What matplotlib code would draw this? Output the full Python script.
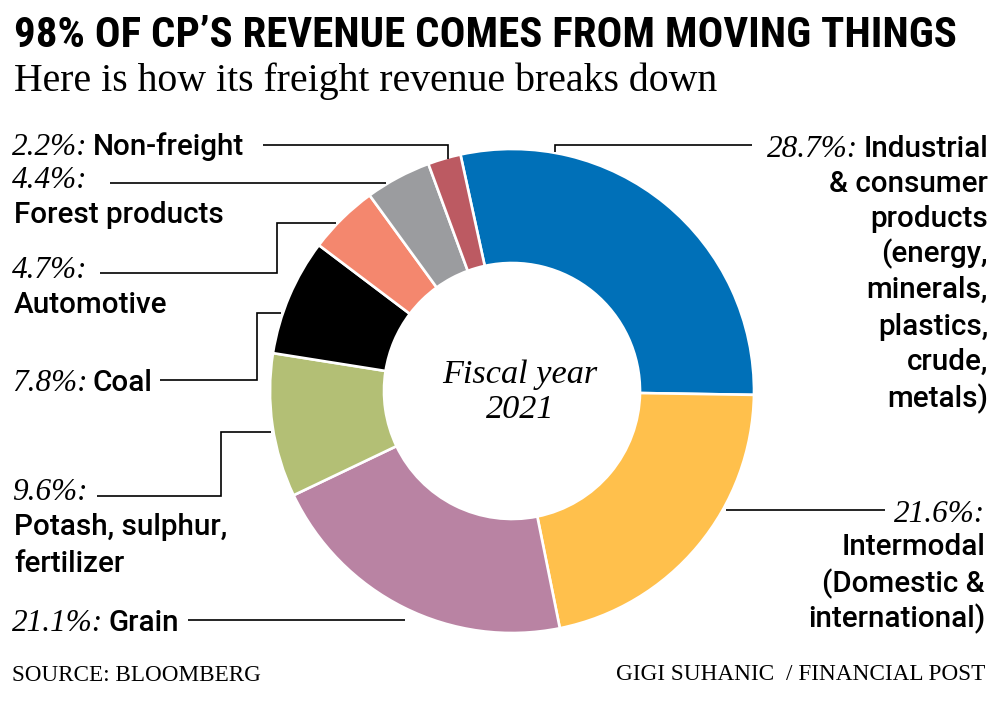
import numpy as np
import matplotlib
matplotlib.use("Agg")
import matplotlib.pyplot as plt
from matplotlib import font_manager as fm

# ---------------- data ----------------
categories = ["Industrial & consumer products", "Intermodal", "Grain",
              "Potash, sulphur, fertilizer", "Coal", "Automotive",
              "Forest products", "Non-freight"]
shares = [28.7, 21.6, 21.1, 9.6, 7.8, 4.7, 4.4, 2.2]
pct_labels = ["28.7%:", "21.6%:", "21.1%:", "9.6%:", "7.8%:", "4.7%:", "4.4%:", "2.2%:"]
colors = ["#0070b8", "#ffc04c", "#b983a3", "#b3bf75", "#000000", "#f4876e",
          "#9b9c9f", "#bc5a62"]

title = "98% OF CP\u2019S REVENUE COMES FROM MOVING THINGS"
subtitle = "Here is how its freight revenue breaks down"
center_lines = ["Fiscal year", "2021"]
source = "SOURCE: BLOOMBERG"
credit = "GIGI SUHANIC  / FINANCIAL POST"

W, H = 1001, 704
fig = plt.figure(figsize=(W / 100, H / 100), dpi=100)
ax = fig.add_axes([0, 0, 1, 1])

def Y(y):
    return H - y

CX, CY, R, RIN = 512, 391, 242, 128
ax.pie(shares, colors=colors, center=(CX, Y(CY)), radius=R, startangle=102.3,
       counterclock=False, frame=True,
       wedgeprops=dict(width=R - RIN, edgecolor="white", linewidth=1.9))
ax.set_xlim(0, W)
ax.set_ylim(0, H)
ax.set_aspect("auto")
ax.axis("off")

avail = {f.name for f in fm.fontManager.ttflist}
def pick(*names):
    for n in names:
        if n in avail:
            return n
    return "DejaVu Sans"

COND = pick("Liberation Sans Narrow", "Roboto Condensed", "DejaVu Sans")
SANS = pick("Roboto", "Liberation Sans", "DejaVu Sans")
SERIF = pick("Liberation Serif", "DejaVu Serif")

renderer = fig.canvas.get_renderer()

def width_of(t):
    bb = t.get_window_extent(renderer=renderer)
    return bb.width, bb

def fit(t, target):
    w, _ = width_of(t)
    t.set_fontsize(t.get_fontsize() * target / w)

# title / subtitle
t = ax.text(14, Y(47), title, fontsize=26, family=COND, weight="bold",
            ha="left", va="baseline")
fit(t, 944)
t = ax.text(14, Y(91), subtitle, fontsize=22, family=SERIF, ha="left", va="baseline")
fit(t, 702)

LFS = 21.3
PCT = dict(family=SERIF, style="italic", fontsize=22.5, va="baseline")
NAME = dict(family=SANS, fontsize=LFS, va="baseline", weight="medium")

def left_label(x, y, pct, name=None):
    p = ax.text(x, Y(y), pct, ha="left", **PCT)
    if name:
        w, bb = width_of(p)
        ax.text(x + w + 5, Y(y), name, ha="left", **NAME)

def left_line(x, y, text):
    ax.text(x, Y(y), text, ha="left", **NAME)

def right_label(x, y, pct, name=None):
    if name:
        n = ax.text(x, Y(y), name, ha="right", **NAME)
        w, bb = width_of(n)
        ax.text(x - w - 5, Y(y), pct, ha="right", **PCT)
    else:
        ax.text(x, Y(y), pct, ha="right", **PCT)

def right_line(x, y, text):
    ax.text(x, Y(y), text, ha="right", **NAME)

# left labels
left_label(12, 155, pct_labels[7], categories[7])
left_label(12, 188, pct_labels[6])
left_line(14, 223, "Forest products")
left_label(12, 278, pct_labels[5])
left_line(14, 313, categories[5])
left_label(12, 391, pct_labels[4], categories[4])
left_label(12, 500, pct_labels[3])
left_line(14, 535, "Potash, sulphur,")
left_line(14, 572, "fertilizer")
left_label(12, 631, pct_labels[2], categories[2])

# right labels
right_label(988, 157, pct_labels[0], "Industrial")
for yy, txt in zip([192, 227, 262, 298, 335, 370, 407],
                   ["& consumer", "products", "(energy,", "minerals,",
                    "plastics,", "crude,", "metals)"]):
    right_line(988, yy, txt)
right_label(985, 522, pct_labels[1])
for yy, txt in zip([555, 592, 627],
                   ["Intermodal", "(Domestic &", "international)"]):
    right_line(985, yy, txt)

# leader lines, ending on the donut's outer edge
def edge_x(y, side):
    return CX + side * np.sqrt(R ** 2 - (y - CY) ** 2)

def edge_y(x):
    return CY - np.sqrt(R ** 2 - (x - CX) ** 2)

def leader(pts):
    xs, ys = zip(*pts)
    ax.plot(xs, [Y(v) for v in ys], color="black", lw=1.2,
            solid_joinstyle="miter", solid_capstyle="butt")

leader([(263, 145), (448, 145), (448, edge_y(448) + 1)])
leader([(110, 183), (edge_x(183, -1) - 2, 183)])
leader([(100, 273), (277, 273), (277, 223), (edge_x(223, -1) - 2, 223)])
leader([(160, 380), (257, 380), (257, 313), (edge_x(313, -1) - 2, 313)])
leader([(97, 496), (221, 496), (221, 432), (edge_x(432, -1) - 2, 432)])
leader([(188, 620), (edge_x(620, -1) - 29, 620)])
leader([(752, 145), (555, 145), (555, edge_y(555) - 1)])
leader([(885, 510), (edge_x(510, 1) + 3, 510)])

# centre text
c1 = ax.text(520, Y(383), center_lines[0], family=SERIF, style="italic",
             fontsize=22, ha="center", va="baseline")
fit(c1, 155)
ax.text(520, Y(418), center_lines[1], family=SERIF, style="italic",
        fontsize=c1.get_fontsize(), ha="center", va="baseline")

# footer
s = ax.text(12, Y(681), source, family=SERIF, fontsize=13, ha="left", va="baseline")
fit(s, 248)
c = ax.text(985, Y(680), credit, family=SERIF, fontsize=13, ha="right", va="baseline")
fit(c, 368)

fig.savefig("out.png", dpi=100, facecolor="white")
